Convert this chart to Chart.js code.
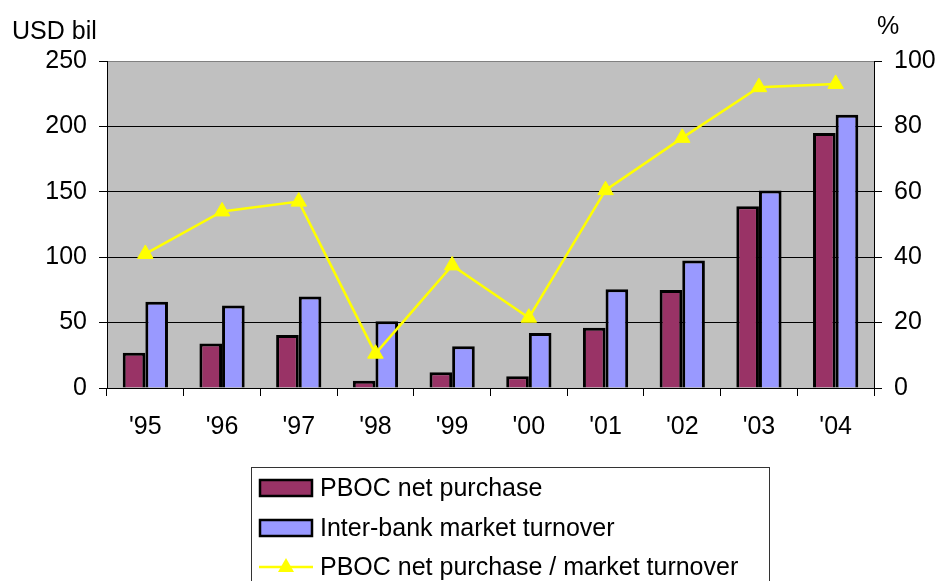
<!DOCTYPE html>
<html>
<head>
<meta charset="utf-8">
<script src="https://cdn.jsdelivr.net/npm/chart.js@4.4.1/dist/chart.umd.min.js"></script>
<style>
  body { margin: 0; background: #fff; }
  canvas { display: block; }
</style>
</head>
<body>
<canvas id="mycanvas" width="939" height="581"></canvas>
<script>
// values
var years = ["'95", "'96", "'97", "'98", "'99", "'00", "'01", "'02", "'03", "'04"];
var pbocPurchase = [27, 34, 40.5, 5.5, 12, 9, 46, 75, 139, 195];
var interbankTurnover = [66, 63, 70, 51, 32, 42, 75.5, 97.5, 151, 209];
var purchaseRatio = [41, 54, 57, 10.5, 37.5, 21.5, 60.5, 76.5, 92, 93];

var leftTicks = [0, 50, 100, 150, 200, 250];
var rightTicks = [0, 20, 40, 60, 80, 100];

var FONT = "'Liberation Sans', Arial, sans-serif";
Chart.defaults.font.family = FONT;
Chart.defaults.font.size = 25;
Chart.defaults.color = '#000';

// grey plot area, titles and the boxed legend
var extras = {
    id: 'extras',
    beforeDraw: function(chart) {
        var c = chart.ctx, a = chart.chartArea;
        c.save();
        c.fillStyle = '#C0C0C0';
        c.fillRect(a.left, a.top, a.right - a.left, a.bottom - a.top);
        c.restore();
    },
    afterDraw: function(chart) {
        var c = chart.ctx;
        c.save();
        c.font = '25px ' + FONT;
        c.fillStyle = '#000';
        c.textBaseline = 'middle';
        c.textAlign = 'left';
        c.fillText('USD bil', 12, 32);
        c.fillText('%', 877, 27);

        // legend box
        c.strokeStyle = '#333';
        c.lineWidth = 1;
        c.strokeRect(251.5, 467.5, 518, 130);

        var items = [
            { text: 'PBOC net purchase', type: 'box', fill: '#993366', y: 488 },
            { text: 'Inter-bank market turnover', type: 'box', fill: '#9999FF', y: 528 },
            { text: 'PBOC net purchase / market turnover', type: 'line', fill: '#FFFF00', y: 567 }
        ];
        items.forEach(function(it) {
            if (it.type === 'box') {
                c.fillStyle = it.fill;
                c.fillRect(260, it.y - 8, 52, 16);
                c.strokeStyle = '#000';
                c.lineWidth = 2.5;
                c.strokeRect(260, it.y - 8, 52, 16);
            } else {
                c.strokeStyle = it.fill;
                c.lineWidth = 2.5;
                c.beginPath();
                c.moveTo(259, it.y);
                c.lineTo(313, it.y);
                c.stroke();
                c.fillStyle = it.fill;
                c.beginPath();
                c.moveTo(286, it.y - 9);
                c.lineTo(294, it.y + 5);
                c.lineTo(278, it.y + 5);
                c.closePath();
                c.fill();
            }
            c.fillStyle = '#000';
            c.fillText(it.text, 320, it.y + 1);
        });
        c.restore();
    }
};

var ctx = document.getElementById('mycanvas');

var chart = new Chart(ctx, {
    type: 'bar',
    data: {
        labels: years,
        datasets: [{
            type: 'line',
            label: 'PBOC net purchase / market turnover',
            data: purchaseRatio,
            yAxisID: 'y1',
            borderColor: '#FFFF00',
            borderWidth: 2.5,
            backgroundColor: '#FFFF00',
            pointStyle: 'triangle',
            pointRadius: 9,
            pointBackgroundColor: '#FFFF00',
            pointBorderColor: '#FFFF00',
            pointBorderWidth: 1,
            tension: 0,
            fill: false,
            order: 0
        }, {
            label: 'PBOC net purchase',
            data: pbocPurchase,
            yAxisID: 'y',
            backgroundColor: '#993366',
            borderColor: '#000',
            borderWidth: 3,
            order: 1
        }, {
            label: 'Inter-bank market turnover',
            data: interbankTurnover,
            yAxisID: 'y',
            backgroundColor: '#9999FF',
            borderColor: '#000',
            borderWidth: 3,
            order: 1
        }]
    },
    options: {
        responsive: false,
        animation: false,
        layout: { padding: { top: 61, left: 0, right: 0, bottom: 0 } },
        datasets: {
            bar: { categoryPercentage: 0.59, barPercentage: 1.0 }
        },
        plugins: {
            legend: { display: false },
            tooltip: { enabled: false }
        },
        scales: {
            x: {
                grid: {
                    offset: true,
                    drawOnChartArea: false,
                    color: '#000',
                    tickLength: 8
                },
                border: { color: '#000', width: 1 },
                ticks: { padding: 16, maxRotation: 0 },
                afterFit: function(s) { s.height = 193; }
            },
            y: {
                position: 'left',
                min: 0,
                max: 250,
                afterBuildTicks: function(s) {
                    s.ticks = leftTicks.map(function(v) { return { value: v }; });
                },
                grid: {
                    color: function(c) { return c.tick && c.tick.value === 250 ? '#808080' : '#000'; },
                    tickColor: '#000',
                    tickLength: 8
                },
                border: { color: '#000', width: 1 },
                ticks: { padding: 12 },
                afterFit: function(s) { s.width = 107; }
            },
            y1: {
                position: 'right',
                min: 0,
                max: 100,
                afterBuildTicks: function(s) {
                    s.ticks = rightTicks.map(function(v) { return { value: v }; });
                },
                grid: {
                    drawOnChartArea: false,
                    color: '#000',
                    tickLength: 8
                },
                border: { color: '#000', width: 1 },
                ticks: { padding: 12 },
                afterFit: function(s) { s.width = 65; }
            }
        }
    },
    plugins: [extras]
});
</script>
</body>
</html>
